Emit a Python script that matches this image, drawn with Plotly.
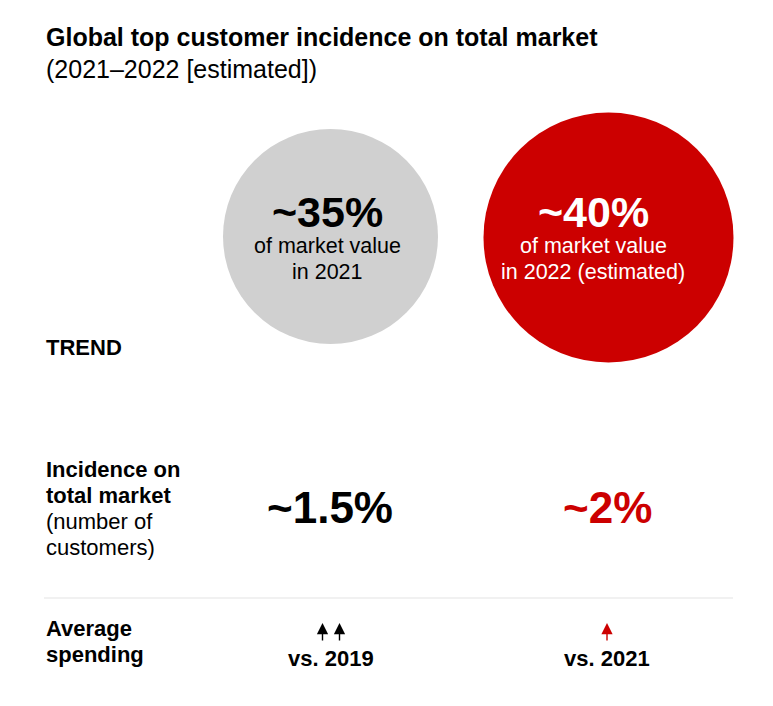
import plotly.graph_objects as go

# data
years = ["2021", "2022 (estimated)"]
market_value_share = [35, 40]       # % of market value
incidence_share = ["1.5", "2"]      # % of total customers
spending_base_year = ["2019", "2021"]
spending_arrows = [2, 1]            # number of up arrows

RED = "#cc0000"
GRAY = "#d0d0d0"
FONT = "Liberation Sans, Arial, sans-serif"

col_x = [329, 601]          # column centres (px)
circle_x = [330.5, 608.5]
circle_y = [236.5, 237.5]
circle_d = [215, 250]
circle_col = [GRAY, RED]
text_col = ["#000000", "#ffffff"]
num_col = ["#000000", RED]

fig = go.Figure()

fig.add_trace(go.Scatter(
    x=circle_x,
    y=circle_y,
    mode="markers",
    marker=dict(size=circle_d, color=circle_col, line=dict(width=0), opacity=1),
    hoverinfo="skip",
    showlegend=False,
))

ann = []


def txt(x, y, s, size, bold=False, color="#000000", xanchor="center"):
    if bold:
        s = "<b>" + s + "</b>"
    ann.append(dict(x=x, y=y, xref="x", yref="y", text=s, showarrow=False,
                    xanchor=xanchor, yanchor="middle",
                    font=dict(size=size, color=color, family=FONT)))


# title
txt(44, 37, "Global top customer incidence on total market", 25, bold=True, xanchor="left")
txt(44, 69, "(2021\u20132022 [estimated])", 25, xanchor="left")

# circles content
for i, yr in enumerate(years):
    cx = col_x[i] - (2 if i == 0 else 8)
    txt(cx, 212, "~%d%%" % market_value_share[i], 43, bold=True, color=text_col[i])
    txt(cx, 246, "of market value", 21.5, color=text_col[i])
    txt(cx, 272, "in " + yr, 21.5, color=text_col[i])

# row labels
txt(44, 347, "TREND", 22, bold=True, xanchor="left")
txt(44, 469, "Incidence on", 22, bold=True, xanchor="left")
txt(44, 495, "total market", 22, bold=True, xanchor="left")
txt(44, 521, "(number of", 22, xanchor="left")
txt(44, 547, "customers)", 22, xanchor="left")
txt(44, 628, "Average", 22, bold=True, xanchor="left")
txt(44, 654, "spending", 22, bold=True, xanchor="left")

# incidence numbers
for i in range(len(years)):
    txt(col_x[i] + (1 if i == 0 else 6), 507, "~" + incidence_share[i] + "%", 44,
        bold=True, color=num_col[i])

# average spending
for i in range(len(years)):
    cx = col_x[i] + (2 if i == 0 else 6)
    txt(cx, 658, "vs. " + spending_base_year[i], 22, bold=True)
    n = spending_arrows[i]
    for k in range(n):
        ax_x = cx + (k - (n - 1) / 2) * 17
        ann.append(dict(x=ax_x, y=623, xref="x", yref="y", ax=ax_x, ay=642,
                        axref="x", ayref="y", text="", showarrow=True,
                        arrowhead=2, arrowsize=1.6, arrowwidth=1.4,
                        arrowcolor=num_col[i]))

# the page body has an 8px margin, so the axes are offset to keep px coords
fig.update_layout(
    width=773, height=706,
    margin=dict(l=0, r=0, t=0, b=0),
    paper_bgcolor="white", plot_bgcolor="white",
    xaxis=dict(range=[8, 781], visible=False, fixedrange=True),
    yaxis=dict(range=[714, 8], visible=False, fixedrange=True),
    annotations=ann,
    shapes=[dict(type="line", xref="x", yref="y", x0=44, x1=733, y0=598, y1=598,
                 line=dict(color="#e3e3e3", width=1))],
)

fig.write_html("out.html")
